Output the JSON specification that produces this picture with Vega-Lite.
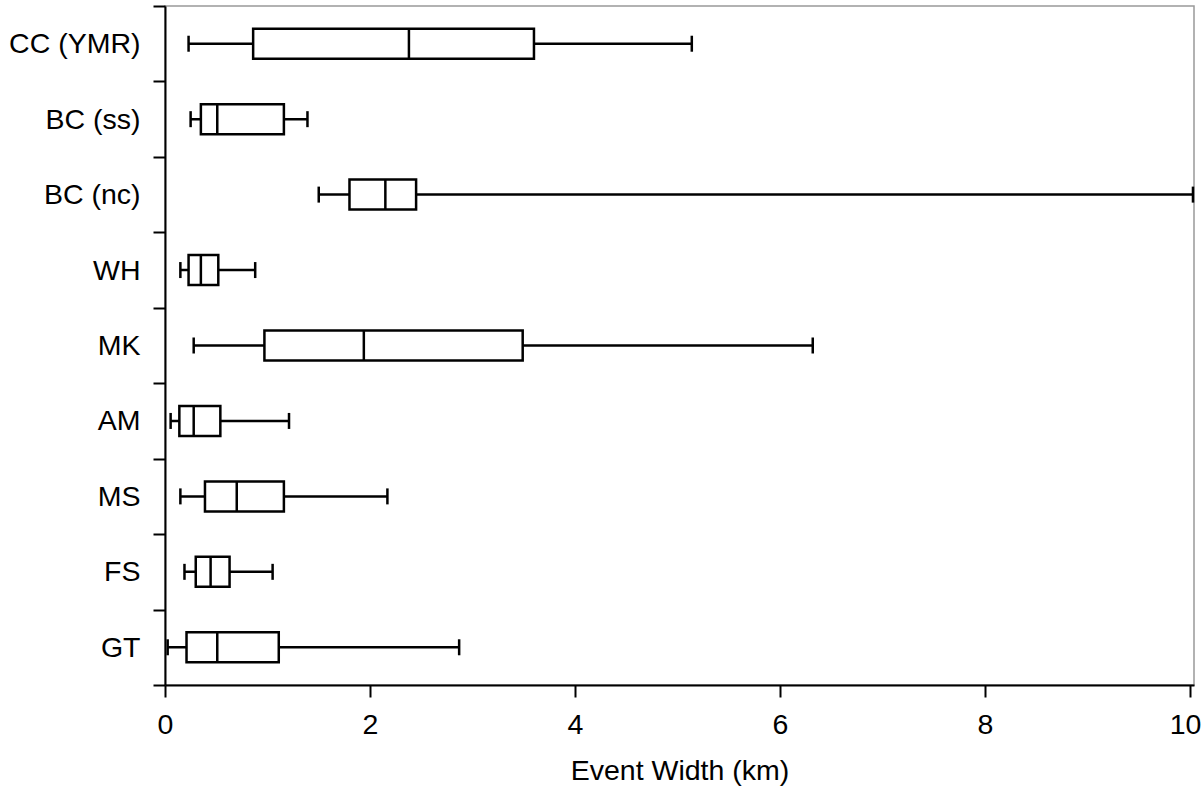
{
  "$schema": "https://vega.github.io/schema/vega-lite/v6.json",
  "width": 1029,
  "height": 679,
  "autosize": {"type": "none"},
  "padding": {"left": 165, "top": 6, "right": 9, "bottom": 103},
  "background": "white",
  "config": {
    "view": {"stroke": "#999999", "strokeWidth": 1.5},
    "font": "Liberation Sans",
    "axis": {
      "domainColor": "black",
      "domainWidth": 2,
      "tickColor": "black",
      "tickWidth": 2,
      "tickSize": 12,
      "grid": false,
      "labelFont": "Liberation Sans",
      "labelFontSize": 28.5,
      "labelColor": "black",
      "labelPadding": 13,
      "titleFont": "Liberation Sans",
      "titleFontSize": 28.5,
      "titleFontWeight": "normal",
      "titleColor": "black"
    }
  },
  "data": {
    "values": [
      {"site": "CC (YMR)", "min": 0.23, "q1": 0.86, "median": 2.38, "q3": 3.6, "max": 5.14},
      {"site": "BC (ss)", "min": 0.25, "q1": 0.35, "median": 0.51, "q3": 1.16, "max": 1.39},
      {"site": "BC (nc)", "min": 1.5, "q1": 1.8, "median": 2.15, "q3": 2.45, "max": 10.03},
      {"site": "WH", "min": 0.15, "q1": 0.23, "median": 0.35, "q3": 0.52, "max": 0.88},
      {"site": "MK", "min": 0.28, "q1": 0.97, "median": 1.94, "q3": 3.49, "max": 6.32},
      {"site": "AM", "min": 0.055, "q1": 0.14, "median": 0.28, "q3": 0.54, "max": 1.21},
      {"site": "MS", "min": 0.15, "q1": 0.39, "median": 0.7, "q3": 1.16, "max": 2.17},
      {"site": "FS", "min": 0.19, "q1": 0.3, "median": 0.445, "q3": 0.63, "max": 1.05},
      {"site": "GT", "min": 0.026, "q1": 0.21, "median": 0.51, "q3": 1.11, "max": 2.87}
    ]
  },
  "encoding": {
    "y": {
      "field": "site",
      "type": "nominal",
      "sort": null,
      "scale": {"paddingInner": 0, "paddingOuter": 0},
      "axis": {"title": null, "tickBand": "extent", "labelAlign": "right", "labelPadding": 13}
    }
  },
  "layer": [
    {
      "mark": {"type": "rule", "color": "black", "strokeWidth": 2.5},
      "encoding": {
        "x": {
          "field": "min",
          "type": "quantitative",
          "scale": {"domain": [0, 10.04], "nice": false, "zero": false},
          "axis": {
            "title": "Event Width (km)",
            "values": [0, 2, 4, 6, 8, 10],
            "format": "d",
            "labelFlush": false,
            "labelAlign": {"condition": {"test": "datum.value == 10", "value": "right"}, "value": "center"},
            "labelOffset": {"condition": {"test": "datum.value == 10", "value": 11}, "value": 0},
            "titlePadding": 18
          }
        },
        "x2": {"field": "max"}
      }
    },
    {
      "mark": {"type": "bar", "fill": "white", "stroke": "black", "strokeWidth": 2.5, "size": 30},
      "encoding": {
        "x": {"field": "q1", "type": "quantitative"},
        "x2": {"field": "q3"}
      }
    },
    {
      "mark": {"type": "tick", "color": "black", "thickness": 2.5, "size": 30, "opacity": 1},
      "encoding": {"x": {"field": "median", "type": "quantitative"}}
    },
    {
      "mark": {"type": "tick", "color": "black", "thickness": 2.5, "size": 16, "opacity": 1},
      "encoding": {"x": {"field": "min", "type": "quantitative"}}
    },
    {
      "mark": {"type": "tick", "color": "black", "thickness": 2.5, "size": 16, "opacity": 1},
      "encoding": {"x": {"field": "max", "type": "quantitative"}}
    }
  ]
}
